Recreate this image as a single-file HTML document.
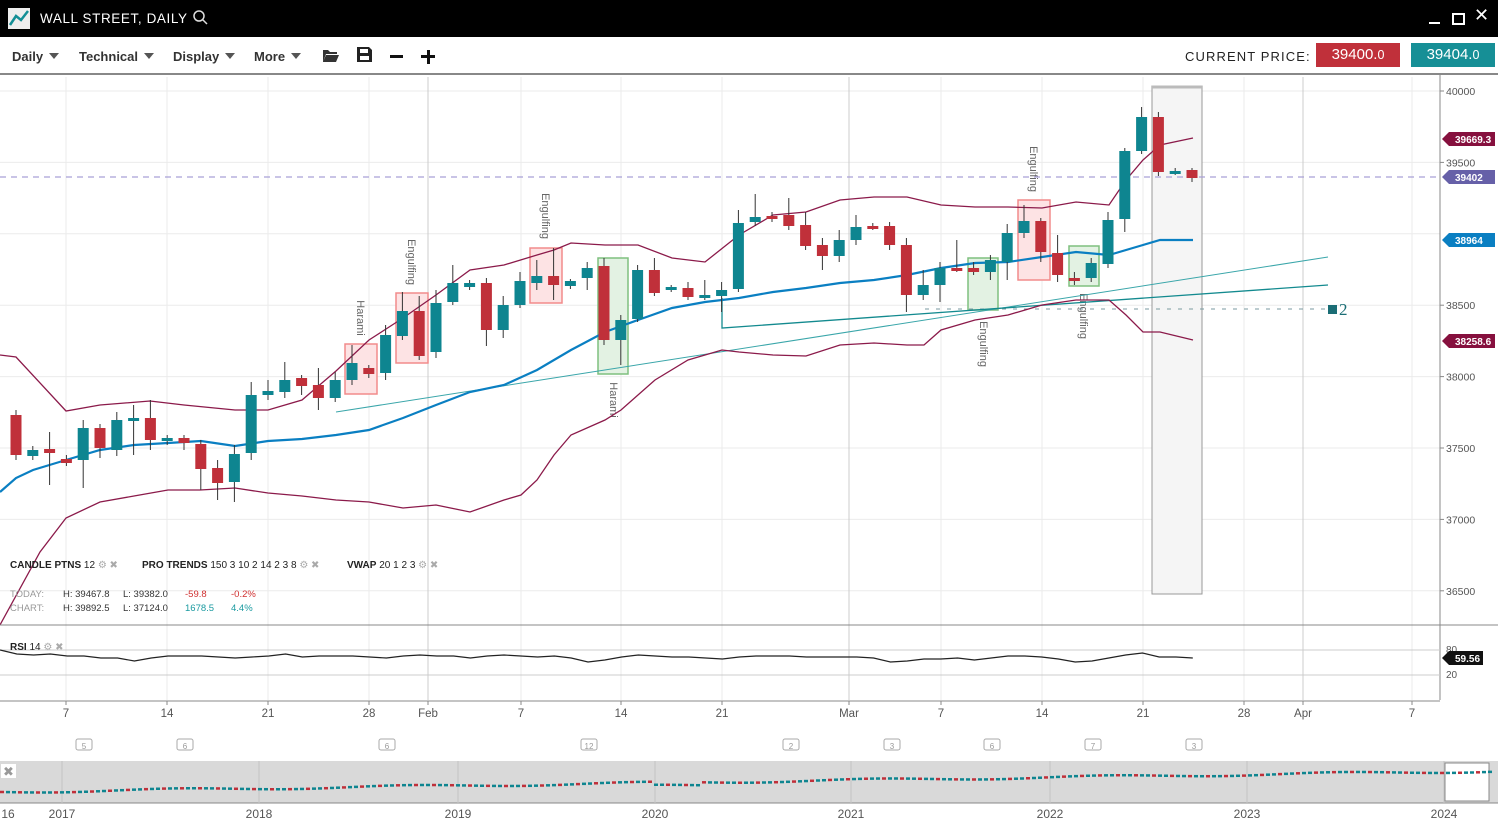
<!DOCTYPE html>
<html><head><meta charset="utf-8"><style>
body{margin:0;width:1498px;height:830px;overflow:hidden;background:#fff;font-family:"Liberation Sans",sans-serif;}
#top{position:absolute;left:0;top:0;width:1498px;height:37px;background:#000;}
#tb{position:absolute;left:0;top:37px;width:1498px;height:38px;border-bottom:2px solid #888;box-sizing:border-box;}
.m{position:absolute;top:12px;font-size:13px;font-weight:bold;color:#333;}
.m:after{content:"";display:inline-block;margin-left:6px;border-left:5px solid transparent;border-right:5px solid transparent;border-top:6px solid #555;vertical-align:2px;}
svg{position:absolute;left:0;top:0;}
</style></head><body>
<div id="top">
<div style="position:absolute;left:8px;top:8px;width:22px;height:21px;background:#eee;"></div>
<svg width="40" height="37" style="left:0;top:0"><polyline points="10,25 16,16 21,20 28,11" fill="none" stroke="#138f96" stroke-width="2.5"/></svg>
<div style="position:absolute;left:40px;top:11px;color:#fff;font-size:13.5px;letter-spacing:0.6px;">WALL STREET, DAILY</div>
<svg width="30" height="37" style="left:190px"><circle cx="9" cy="16" r="5" fill="none" stroke="#ddd" stroke-width="1.5"/><line x1="12.5" y1="19.5" x2="17" y2="24" stroke="#ddd" stroke-width="1.5"/></svg>
<div style="position:absolute;left:1429px;top:22px;width:11px;height:2px;background:#fff"></div>
<div style="position:absolute;left:1452px;top:13px;width:9px;height:8px;border:2px solid #fff;"></div>
<div style="position:absolute;left:1474px;top:5px;color:#fff;font-size:18px;">✕</div>
</div>
<div id="tb">
<div class="m" style="left:12px">Daily</div>
<div class="m" style="left:79px">Technical</div>
<div class="m" style="left:173px">Display</div>
<div class="m" style="left:254px">More</div>
<svg width="20" height="20" style="left:321px;top:9px"><path d="M2,4 h5 l2,2 h7 v2 H5 L2,16z M5,9 h13 l-3,7 H2z" fill="#333"/></svg>
<svg width="20" height="20" style="left:356px;top:9px"><path d="M1,1 h12 l3,3 v12 H1z" fill="#222"/><rect x="4" y="3" width="8" height="4" fill="#fff"/><rect x="4" y="10" width="9" height="4" fill="#fff"/></svg>
<div style="position:absolute;left:390px;top:18px;width:13px;height:3px;background:#111"></div>
<div style="position:absolute;left:421px;top:18px;width:14px;height:3px;background:#111"></div>
<div style="position:absolute;left:426.5px;top:12.5px;width:3px;height:14px;background:#111"></div>
<div style="position:absolute;left:1185px;top:12px;font-size:13px;letter-spacing:1.1px;color:#222">CURRENT PRICE:</div>
<div style="position:absolute;left:1316px;top:6px;width:84px;height:24px;background:#c0303a;color:#fff;font-size:15px;text-align:center;line-height:24px">39400.<small>0</small></div>
<div style="position:absolute;left:1411px;top:6px;width:84px;height:24px;background:#168f96;color:#fff;font-size:15px;text-align:center;line-height:24px">39404.<small>0</small></div>
</div>
<svg id="c" width="1498" height="830" style="top:0"></svg>
<script>
const s=[];const R='#c0303a',T='#0e8590';
function y(p){return 91+(40000-p)*0.1428;}
[40000,39500,39000,38500,38000,37500,37000,36500].forEach(p=>{s.push(`<line x1="0" x2="1440" y1="${y(p)}" y2="${y(p)}" stroke="#ebebeb"/>`);});
[66,167,268,369,521,621,722,941,1042,1143,1244,1412].forEach(x=>s.push(`<line x1="${x}" x2="${x}" y1="77" y2="700" stroke="#ebebeb"/>`));
[428,849,1303].forEach(x=>s.push(`<line x1="${x}" x2="${x}" y1="77" y2="700" stroke="#ccc"/>`));
s.push(`<rect x="1152" y="86" width="50" height="508" fill="#f5f5f5" stroke="#999"/><line x1="1152" x2="1202" y1="87" y2="87" stroke="#bbb" stroke-width="3"/>`);
const bx=[[345,344,32,50,1],[396,293,32,70,1],[530,248,32,55,1],[598,258,30,116,0],[968,258,30,52,0],[1018,200,32,80,1],[1069,246,30,40,0]];
bx.forEach(b=>s.push(`<rect x="${b[0]}" y="${b[1]}" width="${b[2]}" height="${b[3]}" fill="${b[4]?'#fde3e4':'#e3f2e3'}" stroke="${b[4]?'#f28b8b':'#7fc07f'}" stroke-width="1.5"/>`));
const lb=[[360,318,'Harami'],[411,262,'Engulfing'],[545,216,'Engulfing'],[613,400,'Harami'],[983,344,'Engulfing'],[1033,169,'Engulfing'],[1083,316,'Engulfing']];
lb.forEach(l=>s.push(`<text x="${l[0]}" y="${l[1]}" transform="rotate(90 ${l[0]} ${l[1]})" font-size="11" fill="#666" text-anchor="middle" dominant-baseline="middle">${l[2]}</text>`));
s.push(`<line x1="0" x2="1440" y1="177" y2="177" stroke="#a9a0d6" stroke-width="1.3" stroke-dasharray="6,5"/>`);
s.push(`<line x1="925" x2="1330" y1="309" y2="309" stroke="#7a9aa0" stroke-dasharray="4,7"/>`);
s.push(`<line x1="336" y1="412" x2="1328" y2="257" stroke="#3aa6aa"/><polyline points="722,298 722,328 1328,285" fill="none" stroke="#138a8f" stroke-width="1.3"/>`);
s.push(`<rect x="1328" y="305" width="9" height="9" fill="#1a6d75"/><text x="1339" y="315" font-family="Liberation Serif" font-size="17" fill="#1a6d75">2</text>`);
const pl=(p,c,w)=>s.push(`<polyline points="${p}" fill="none" stroke="${c}" stroke-width="${w}"/>`);
pl('0,355 16,357 66,411 100,405 150,401 184,405 235,410 268,410 302,400 336,371 369,340 403,318 436,295 470,270 504,265 537,255 554,250 571,243 605,245 638,245 672,258 705,262 739,235 773,215 806,212 840,200 874,197 907,197 941,205 975,207 1008,207 1042,208 1076,202 1109,205 1126,180 1143,160 1160,145 1193,138','#8b1a4a',1.3);
pl('0,625 40,552 66,518 100,502 134,496 168,490 200,490 235,488 268,493 302,496 336,500 369,502 403,508 436,505 470,512 504,500 521,495 537,480 554,455 571,435 605,420 621,410 655,380 688,360 722,350 739,352 773,355 806,356 840,345 874,343 907,345 924,345 941,330 975,320 1008,315 1042,305 1076,300 1109,300 1126,315 1143,332 1160,332 1193,340','#8b1a4a',1.3);
pl('0,492 16,478 33,470 66,460 100,450 134,445 168,443 201,441 235,446 268,441 302,439 336,435 369,430 403,418 436,405 470,392 504,385 537,370 571,350 605,332 638,320 672,308 705,302 739,298 773,292 806,288 840,283 874,280 907,275 941,268 975,263 1008,262 1042,257 1076,252 1109,255 1143,245 1160,240 1193,240','#0a7fc2',2.2);
const c=[[1,415,455,410,460],[0,450,456,446,460],[1,449,453,432,485],[1,459,463,455,466],[0,428,460,420,488],[1,428,448,424,458],[0,420,450,412,456],[0,418,421,405,455],[1,418,440,400,450],[0,438,441,435,445],[1,438,443,435,450],[1,444,469,440,490],[1,468,483,460,500],[0,454,482,445,502],[0,395,453,382,460],[0,391,395,380,400],[0,380,392,362,398],[1,378,386,375,395],[1,385,398,368,410],[0,380,398,372,402],[0,363,380,345,385],[1,368,374,365,378],[0,335,373,325,380],[0,311,336,292,340],[1,311,356,296,360],[0,303,352,290,358],[0,283,302,265,305],[0,283,287,280,290],[1,283,330,278,346],[0,305,330,296,338],[0,281,305,272,308],[0,276,283,260,290],[1,276,285,248,300],[0,281,286,279,289],[0,268,278,262,290],[1,266,340,258,345],[0,320,340,315,365],[0,270,319,265,322],[1,270,293,258,296],[0,287,290,285,292],[1,288,297,282,300],[0,295,298,280,300],[0,290,296,282,312],[0,223,289,210,292],[0,217,222,194,226],[1,216,219,212,222],[1,215,226,198,230],[1,225,246,212,250],[1,245,256,238,270],[0,240,256,230,262],[0,227,240,215,245],[1,226,228,223,230],[1,226,245,222,250],[1,245,295,238,312],[0,285,295,270,300],[0,268,285,262,302],[1,268,270,240,272],[1,268,272,262,275],[0,260,272,255,280],[0,233,262,224,280],[0,221,233,205,238],[1,221,252,218,262],[1,253,275,235,282],[1,278,281,272,285],[0,263,278,258,282],[0,220,264,212,268],[0,151,219,148,232],[0,117,151,107,154],[1,117,172,112,176],[0,171,173,168,175],[1,170,178,168,182]];
c.forEach((d,i)=>{const x=16+i*16.8;s.push(`<line x1="${x}" x2="${x}" y1="${d[3]}" y2="${d[4]}" stroke="#333"/><rect x="${x-5.5}" y="${d[1]}" width="11" height="${Math.max(3,d[2]-d[1])}" fill="${d[0]?R:T}"/>`);});
s.push(`<rect x="1440" y="75" width="58" height="625" fill="#fff"/><line x1="1440" x2="1440" y1="75" y2="700" stroke="#888"/>`);
[40000,39500,38500,38000,37500,37000,36500].forEach(p=>s.push(`<line x1="1440" x2="1444" y1="${y(p)}" y2="${y(p)}" stroke="#888"/><text x="1446" y="${y(p)+4}" font-size="10.5" fill="#555">${p}</text>`));
const tag=(yy,c,t)=>s.push(`<path d="M1442,${yy} l7,-7 h46 v14 h-46z" fill="${c}"/><text x="1455" y="${yy+4}" font-size="10" font-weight="bold" fill="#fff">${t}</text>`);
tag(139,'#86103e','39669.3');tag(177,'#6660a8','39402');tag(240,'#0a7fc2','38964');tag(341,'#86103e','38258.6');
s.push(`<text x="10" y="568" font-size="10" fill="#222"><tspan font-weight="bold">CANDLE PTNS</tspan> 12 <tspan fill="#aaa">⚙ ✖</tspan></text>`);
s.push(`<text x="142" y="568" font-size="10" fill="#222"><tspan font-weight="bold">PRO TRENDS</tspan> 150 3 10 2 14 2 3 8 <tspan fill="#aaa">⚙ ✖</tspan></text>`);
s.push(`<text x="347" y="568" font-size="10" fill="#222"><tspan font-weight="bold">VWAP</tspan> 20 1 2 3 <tspan fill="#aaa">⚙ ✖</tspan></text>`);
s.push(`<text font-size="9.5" fill="#999"><tspan x="10" y="597">TODAY:</tspan><tspan x="10" y="611">CHART:</tspan></text>`);
s.push(`<text font-size="9.5" fill="#333"><tspan x="63" y="597">H: 39467.8</tspan><tspan x="123" y="597">L: 39382.0</tspan><tspan x="63" y="611">H: 39892.5</tspan><tspan x="123" y="611">L: 37124.0</tspan></text>`);
s.push(`<text font-size="9.5" fill="#d03030"><tspan x="185" y="597">-59.8</tspan><tspan x="231" y="597">-0.2%</tspan></text><text font-size="9.5" fill="#1a9aa0"><tspan x="185" y="611">1678.5</tspan><tspan x="231" y="611">4.4%</tspan></text>`);
s.push(`<line x1="0" x2="1498" y1="625" y2="625" stroke="#888"/><line x1="0" x2="1440" y1="650" y2="650" stroke="#ccc"/><line x1="0" x2="1440" y1="675" y2="675" stroke="#ccc"/><line x1="0" x2="1440" y1="701" y2="701" stroke="#888"/>`);
s.push(`<text x="1446" y="653" font-size="10" fill="#555">80</text><text x="1446" y="678" font-size="10" fill="#555">20</text>`);
s.push(`<text x="10" y="650" font-size="10" fill="#222"><tspan font-weight="bold">RSI</tspan> 14 <tspan fill="#aaa">⚙ ✖</tspan></text>`);
let r='';const rv=[650,654,655,654,656,656,658,658,661,658,656,656,656,657,658,657,656,654,657,656,656,656,657,658,656,655,656,656,658,656,655,656,657,656,658,662,660,657,655,656,657,657,658,659,657,656,656,656,657,657,657,657,658,662,661,659,659,658,660,658,656,656,657,659,662,661,658,655,653,657,657,658];
rv.forEach((v,i)=>r+=`${i*16.8},${v} `);pl(r,'#222',1.2);
s.push(`<path d="M1442,658 l7,-7 h34 v14 h-34z" fill="#111"/><text x="1455" y="662" font-size="10" font-weight="bold" fill="#fff">59.56</text>`);
[[66,'7'],[167,'14'],[268,'21'],[369,'28'],[428,'Feb'],[521,'7'],[621,'14'],[722,'21'],[849,'Mar'],[941,'7'],[1042,'14'],[1143,'21'],[1244,'28'],[1303,'Apr'],[1412,'7']].forEach(d=>s.push(`<line x1="${d[0]}" x2="${d[0]}" y1="701" y2="705" stroke="#888"/><text x="${d[0]}" y="717" font-size="11.5" fill="#555" text-anchor="middle">${d[1]}</text>`));
[[84,5],[185,6],[387,6],[589,12],[791,2],[892,3],[992,6],[1093,7],[1194,3]].forEach(d=>s.push(`<rect x="${d[0]-8}" y="739" width="16" height="11" rx="2" fill="#fff" stroke="#aaa"/><text x="${d[0]}" y="749" font-size="8" fill="#999" text-anchor="middle">${d[1]}</text>`));
s.push(`<rect x="0" y="761" width="1498" height="42" fill="#d9d9d9"/><line x1="0" x2="1498" y1="803" y2="803" stroke="#888"/>`);
[62,259,458,655,851,1050,1247,1444].forEach(x=>s.push(`<line x1="${x}" x2="${x}" y1="761" y2="803" stroke="#c4c4c4"/>`));
s.push(`<rect x="1445" y="763" width="44" height="38" fill="#fff" stroke="#888"/><rect x="1" y="764" width="15" height="14" fill="#fff"/><text x="3" y="776" font-size="13" fill="#999">✖</text>`);
for(let x=0;x<1490;x+=6){const v=792-x*0.014+Math.sin(x/37)*1.2+(x>650&&x<700?3:0);s.push(`<line x1="${x}" x2="${x+4}" y1="${v}" y2="${v}" stroke="${(x/6)%3==0?R:T}" stroke-width="2.5"/>`);}
[[8,'16'],[62,'2017'],[259,'2018'],[458,'2019'],[655,'2020'],[851,'2021'],[1050,'2022'],[1247,'2023'],[1444,'2024']].forEach(d=>s.push(`<text x="${d[0]}" y="818" font-size="12" fill="#555" text-anchor="middle">${d[1]}</text>`));
document.getElementById('c').innerHTML=s.join('');
</script>
</body></html>
